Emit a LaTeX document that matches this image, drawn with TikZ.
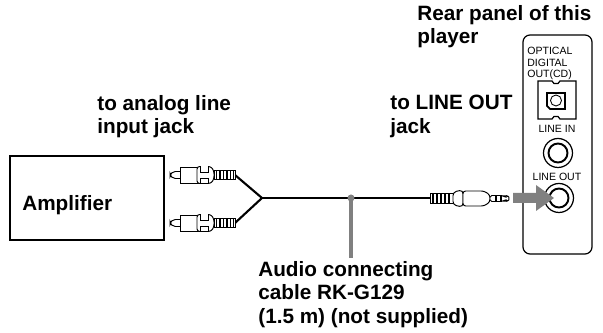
\documentclass[tikz,border=0pt]{standalone}
\usepackage{fontspec}
\setmainfont{Liberation Sans}
\usepackage{xcolor}
\usetikzlibrary{positioning,calc}
\definecolor{calloutgray}{HTML}{808080}
\begin{document}
\begin{tikzpicture}[
  x=0.02cm, y=-0.02cm,
  boldlabel/.style={font=\fontsize{11.8}{13.3}\selectfont\bfseries, align=left, anchor=north west, inner sep=0pt},
  panellabel/.style={font=\fontsize{6}{6.5}\selectfont, align=left, inner sep=0pt},
  outline/.style={draw=black, line width=0.55pt, fill=white},
  cable/.style={draw=black, line width=1.2pt},
  callout/.style={draw=calloutgray, line width=1.8pt},
]
\useasboundingbox (0,0) rectangle (603,333);

% texts
\node[boldlabel] (reartext) at (417,5) {Rear panel of this\\player};
\node[boldlabel] (analogtext) at (97,95) {to analog line\\input jack};
\node[boldlabel] (lineouttext) at (390,95) {to LINE OUT\\jack};
\node[boldlabel] (cabletext) at (258,261) {Audio connecting\\cable RK-G129\\(1.5 m) (not supplied)};

% amplifier
\node[draw, line width=0.6pt, minimum width=154*0.02cm, minimum height=84*0.02cm, inner sep=0pt] (amplifier) at (87,198) {};
\node[font=\fontsize{11.8}{13.3}\selectfont\bfseries, anchor=west, inner sep=0pt] (amplabel) at (22,205) {Amplifier};

% cable
\coordinate (junction) at (262,198);
\coordinate (plugA) at (235,175);
\coordinate (plugB) at (235,223);
\coordinate (jackend) at (430,198);
\draw[cable] (plugA) -- (junction);
\draw[cable] (plugB) -- (junction);
\draw[cable] (junction) -- (jackend);

% two phono plugs
\foreach \y in {175,223} {
  \draw[outline, rounded corners=3pt] (181,\y-3.5) -- (170,\y-3.5) -- (170,\y+3.5) -- (181,\y+3.5);
  \draw[outline] (180,\y-8) -- (198,\y-8) -- (198,\y+8) -- (180,\y+8) -- cycle;
  \draw[outline, rounded corners=1.5pt] (197,\y-8.5) -- (211,\y-8.5) -- (214,\y-4) -- (214,\y+4) -- (211,\y+8.5) -- (197,\y+8.5) -- cycle;
  \draw[outline] (200,\y-8.5) -- (200,\y-3) -- (208,\y-3) -- (208,\y-8.5);
  \draw[outline] (200,\y+8.5) -- (200,\y+3) -- (208,\y+3) -- (208,\y+8.5);
  \draw[outline] (214,\y-4.5) rectangle (235,\y+4.5);
  \foreach \t in {216.5,220,223.5,227,230.5,233.5} {
    \draw[line width=1pt] (\t,\y-4) -- (\t,\y+4);
  }
}

% stereo mini plug
\draw[outline] (430,193.5) rectangle (453,203.5);
\foreach \t in {433,437,441,445,449} {
  \draw[line width=1pt] (\t,194) -- (\t,203);
}
\draw[outline, rounded corners=2pt] (453,192) -- (463,190) -- (463,207) -- (453,205) -- cycle;
\draw[outline, rounded corners=1.5pt] (463,191) -- (484,191) -- (490,195) -- (490,202) -- (484,206) -- (463,206) -- cycle;
\draw[outline, rounded corners=1pt] (490,195.5) -- (503,195.5) -- (505,197) -- (507,195) -- (510,198.5) -- (507,202) -- (505,200) -- (503,201.5) -- (490,201.5) -- cycle;
\draw[line width=1pt] (496,195.5) -- (496,201.5);
\draw[line width=1pt] (501,195.5) -- (501,201.5);

% rear panel
\draw[line width=0.7pt, rounded corners=4pt] (523,35) rectangle (592,254);
\node[panellabel, anchor=north west] (opticaltext) at (527,47) {OPTICAL\\DIGITAL\\OUT(CD)};
\node[panellabel] (lineintext) at (557,129) {LINE IN};
\node[panellabel] (lineoutlabel) at (557,177) {LINE OUT};

% optical socket
\draw[line width=0.7pt] (538,81) -- (552,81) -- (554,83.5) -- (558,83.5) -- (560,81) -- (576,81) -- (576,119) -- (560,119) -- (558,116.5) -- (554,116.5) -- (552,119) -- (538,119) -- cycle;
\draw[line width=1pt] (547,93) -- (565,93) -- (565,109) -- (550,109) -- (547,106) -- cycle;
\draw[line width=0.5pt] (556,100.5) circle (5.5);

% jacks
\draw[line width=0.7pt] (558,153) circle (14.5);
\draw[line width=1.1pt] (558,153) circle (9.5);
\draw[line width=0.7pt] (559,198) circle (14.5);
\draw[line width=1.1pt] (559,198) circle (9.5);

% arrow into line out
\fill[calloutgray] (513,193) -- (536,193) -- (536,185) -- (554,198) -- (536,211) -- (536,203) -- (513,203) -- cycle;

% callout
\coordinate (calloutend) at (351,258);
\fill[calloutgray] (351,198) circle (3.5) coordinate (calloutdot);
\draw[callout] (351,198) -- (calloutend);
\end{tikzpicture}
\end{document}
